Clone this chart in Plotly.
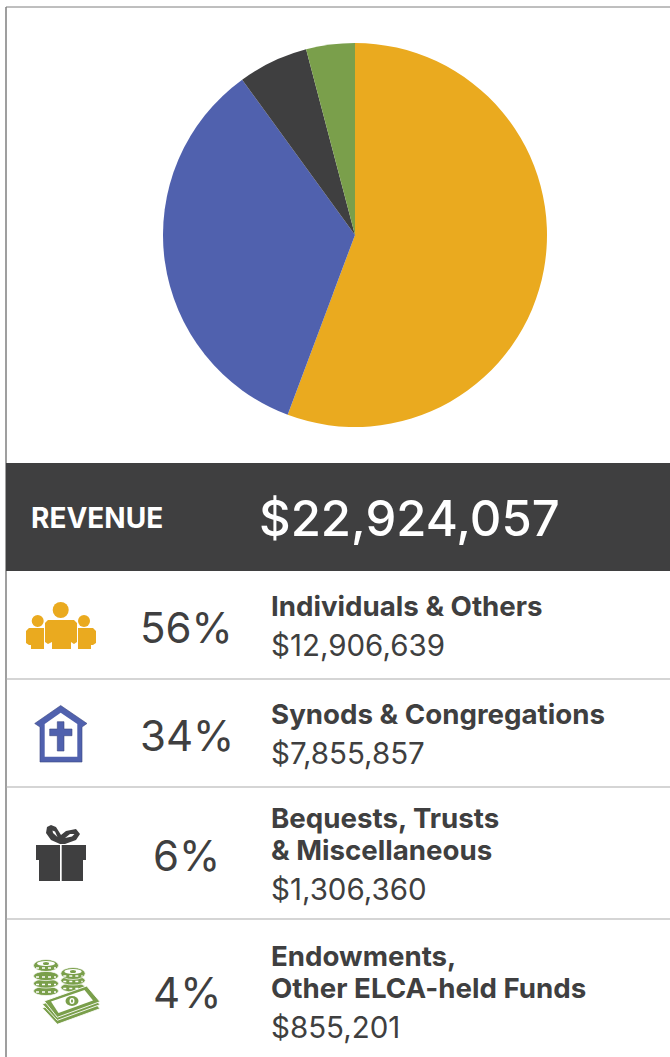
import plotly.graph_objects as go

W, H = 670, 1057
categories = [["Individuals & Others"], ["Synods & Congregations"], ["Bequests, Trusts", "& Miscellaneous"], ["Endowments,", "Other ELCA-held Funds"]]
labels = ["Individuals & Others", "Synods & Congregations", "Bequests, Trusts & Miscellaneous", "Endowments, Other ELCA-held Funds"]
pie_shares = [55.7, 34.3, 5.9, 4.1]
percents = ["56%", "34%", "6%", "4%"]
amounts = ["$12,906,639", "$7,855,857", "$1,306,360", "$855,201"]
colors = ["#EAAA1F", "#5061AE", "#3F3F40", "#7A9F4B"]
title_label = "REVENUE"
title_total = "$22,924,057"

DARK = "#3F3F40"
FONT = "Inter"
X = lambda x: x / W
Y = lambda y: 1 - y / H
shapes = []

def rect(x0, y0, x1, y1, fill, **kw):
    shapes.append(dict(type="rect", xref="paper", yref="paper", x0=X(x0), x1=X(x1), y0=Y(y0), y1=Y(y1),
                       fillcolor=fill, line=dict(width=0), **kw))

def line(x0, y0, x1, y1, color, width=1, dash="solid"):
    shapes.append(dict(type="line", xref="paper", yref="paper", x0=X(x0), x1=X(x1), y0=Y(y0), y1=Y(y1),
                       line=dict(color=color, width=width, dash=dash)))

def ell(cx, cy, rx, ry, fill, lc=None, lw=0):
    shapes.append(dict(type="circle", xref="paper", yref="paper", x0=X(cx - rx), x1=X(cx + rx), y0=Y(cy - ry), y1=Y(cy + ry),
                       fillcolor=fill, line=dict(color=lc or fill, width=lw)))

def poly(pts, fill, lc=None, lw=0):
    d = "M" + " L".join(f"{X(a):.5f},{Y(b):.5f}" for a, b in pts) + " Z"
    shapes.append(dict(type="path", xref="paper", yref="paper", path=d, fillcolor=fill, line=dict(color=lc or fill, width=lw)))

# frame, band and row rules
line(6, 7, W, 7, "#7f7f7f", 1)
line(6, 7, 6, H, "#7f7f7f", 1.5)
rect(6, 463, W, 571, DARK)
for y in [679, 787, 919]:
    line(6, y, W, y, "#ababab", 1)

# people icon
G = colors[0]
ell(60.7, 610, 8, 8, G); ell(37.7, 621, 6, 6, G); ell(84, 621, 6, 6, G)
poly([(26, 631), (29, 628), (44, 628), (44, 649), (31, 649), (31, 645), (29, 645), (26, 643)], G)
poly([(96, 631), (93, 628), (78, 628), (78, 649), (91, 649), (91, 645), (93, 645), (96, 643)], G)
poly([(44.5, 628), (46, 628), (46, 649), (44.5, 649)], "white")
poly([(76, 628), (77.5, 628), (77.5, 649), (76, 649)], "white")
poly([(45, 623), (48, 620), (74, 620), (77, 623), (77, 642), (74, 644), (71, 642), (71, 649), (52, 649), (52, 642), (48, 644), (45, 642)], G)

# church icon
B = colors[1]
poly([(60.7, 705.5), (87, 723.5), (82, 727), (82, 762), (40, 762), (40, 727), (34.7, 723.5)], B, "#3a4680", 0.6)
poly([(60.7, 712.7), (77.3, 724), (77.3, 756.7), (44.7, 756.7), (44.7, 724)], "white")
poly([(57.3, 721.7), (64, 721.7), (64, 729), (72, 729), (72, 735.7), (64, 735.7), (64, 751), (57.3, 751), (57.3, 735.7), (49.7, 735.7), (49.7, 729), (57.3, 729)], B, "#3a4680", 0.6)

# gift icon
rect(36, 845, 86, 860, DARK); rect(39, 860, 83, 881, DARK); rect(60, 845, 61.7, 881, "white")
poly([(60, 844), (51, 840), (46, 833), (47, 827), (51, 825), (56, 827), (61, 835), (66, 831), (76, 829), (80, 834), (76, 840), (65, 844)], DARK)
poly([(57.5, 837), (53, 833), (52.5, 830.5), (55, 831.5)], "white")
poly([(65, 838), (70, 834), (74.5, 834), (72, 836.5)], "white")

# money icon
M = colors[3]
def coin(cx, cy, rx):
    ell(cx, cy, rx, 4.6, M, "white", 0.7)
    line(cx - rx + 2.5, cy + 1, cx + rx - 2.5, cy + 1, "white", 1.4, "dot")
def top_coin(cx, cy, rx):
    ell(cx, cy + 1, rx, 6, M, "white", 0.7)
    line(cx - rx + 2.5, cy + 3.5, cx + rx - 2.5, cy + 3.5, "white", 1.4, "dot")
    ell(cx, cy - 1, rx - 3.5, 2.6, "white")
    ell(cx, cy - 1, 3, 1.5, M)
for cy in [991, 983.5, 976]:
    coin(46, cy, 12.5)
top_coin(46, 964.5, 12.5)
for cy in [987.5, 980.5]:
    coin(73, cy, 12.2)
top_coin(73, 972.5, 12.2)
for dy in [8, 4]:
    poly([(42.3, 1000 + dy), (86.7, 985 + dy), (100, 1000.7 + dy), (57.3, 1016.3 + dy)], M, "white", 0.9)
poly([(44.3, 1001), (86.7, 986), (100, 1001.7), (57.3, 1017.3)], M, "white", 0.9)
poly([(51, 1001.5), (84.5, 990), (93, 1000.5), (58.5, 1013)], "white")
ell(72, 1001, 6.5, 5, M)
ell(72, 1001, 2.5, 3, "white")
ell(72, 1001, 1, 1.8, M)

def text(x, y, s, size, color=DARK, bold=False, anchor="left", weight=None):
    f = dict(family=FONT, size=size, color=color)
    if weight:
        f["weight"] = weight
    return dict(xref="paper", yref="paper", x=X(x), y=Y(y), text=f"<b>{s}</b>" if bold else s, showarrow=False,
                xanchor=anchor, yanchor="middle", align="left", font=f)

annotations = [text(29, 518, title_label, 28, "white", True), text(257, 518, title_total, 49, "white", weight=500)]
pct_y = [627, 735, 855, 993]
name_y = [[606], [714], [818, 850], [956, 988]]
amt_y = [645, 753, 889, 1027]
for i in range(4):
    annotations.append(text(186.5, pct_y[i], percents[i], 42, anchor="center"))
    for s, y in zip(categories[i], name_y[i]):
        annotations.append(text(269, y, s, 27.7, bold=True))
    annotations.append(text(269, amt_y[i], amounts[i], 29.5))

fig = go.Figure(go.Pie(values=pie_shares, labels=labels, sort=False, direction="clockwise", rotation=0,
                       marker=dict(colors=colors, line=dict(width=0)), textinfo="none", hoverinfo="label+percent",
                       domain=dict(x=[X(163), X(547)], y=[Y(427), Y(43)])))
fig.update_layout(width=W, height=H, margin=dict(l=0, r=0, t=0, b=0), showlegend=False,
                  paper_bgcolor="white", shapes=shapes, annotations=annotations)
fig.write_html("out.html", config=dict(displayModeBar=False), post_script="document.body.style.margin='0';")
